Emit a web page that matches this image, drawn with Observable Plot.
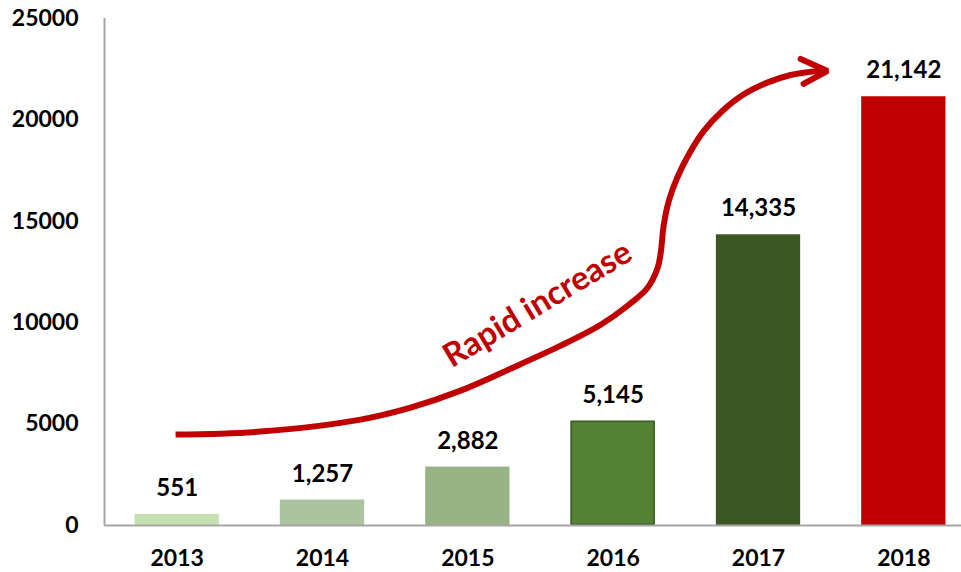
<!DOCTYPE html>
<html>
<head>
<meta charset="utf-8">
<script src="https://cdn.jsdelivr.net/npm/d3@7"></script>
<script src="https://cdn.jsdelivr.net/npm/@observablehq/plot@0.6"></script>
<style>
  html, body { margin: 0; padding: 0; background: #fff; }
  #chart { width: 961px; height: 572px; }
</style>
</head>
<body>
<div id="chart"></div>
<script>
// ---- data ----
const years = ["2013", "2014", "2015", "2016", "2017", "2018"];
const counts = [551, 1257, 2882, 5145, 14335, 21142];
const yTicks = [0, 5000, 10000, 15000, 20000, 25000];
const annotationText = "Rapid increase";
// arrow path in data units (x = year index, y = value)
const arrowX = [-0.011, 0.574, 1.262, 1.606, 1.95, 2.294, 2.638, 2.914, 3.099, 3.237, 3.306, 3.326, 3.349, 3.383, 3.441, 3.521, 3.624, 3.751, 3.899, 4.06, 4.221, 4.44];
const arrowY = [4483, 4630, 5222, 5812, 6650, 7734, 8867, 9901, 10837, 11724, 12709, 13384, 14862, 16010, 17158, 18310, 19458, 20443, 21266, 21837, 22216, 22438];
const headX = [4.29, 4.475, 4.31];
const headY = [23005, 22414, 21773];

// ---- styles ----
const palette = ["#c5e0b4", "#abc39f", "#98b384", "#548235", "#3a5724", "#c00000"];
const red = "#c00000";
const gray = "#a6a6a6";

const bars = years.map((y, i) => ({i, year: y, value: counts[i]}));
const curve = arrowX.map((x, k) => ({x, y: arrowY[k]}));
const head = headX.map((x, k) => ({x, y: headY[k]}));

const half = 0.29;
const chart = Plot.plot({
  width: 961,
  height: 572,
  marginLeft: 104,
  marginRight: 0,
  marginTop: 18,
  marginBottom: 47,
  style: {fontFamily: "Lato, 'Open Sans', sans-serif", fontSize: "23px", fontWeight: "bold", color: "#000", background: "#fff", overflow: "visible"},
  x: {domain: [-0.5, 5.5], range: [104, 976], axis: null},
  y: {domain: [0, 25000], axis: null},
  color: {type: "ordinal", domain: years, range: palette},
  marks: [
    Plot.rectY(bars, {x1: d => d.i - half, x2: d => d.i + half, y: "value", fill: "year"}),
    Plot.rectY(bars.filter(d => d.year === "2016"), {x1: d => d.i - half, x2: d => d.i + half, y: "value", fill: "none", stroke: "#3d5e27", strokeWidth: 1.5, inset: 0.75}),
    Plot.text(bars, {x: "i", y: "value", text: d => d3.format(",")(d.value), dy: -26, fill: "#000", fontSize: 24, fontWeight: "bold"}),
    Plot.ruleX([-0.5], {y1: 0, y2: 25000, stroke: gray, strokeWidth: 2}),
    Plot.ruleY([0], {stroke: gray, strokeWidth: 2}),
    Plot.axisY({ticks: yTicks, tickSize: 0, tickPadding: 26, tickFormat: d => String(d), fontSize: 23, fontWeight: "bold"}),
    Plot.axisX({ticks: years.map((_, i) => i), tickSize: 0, tickPadding: 24, tickFormat: i => years[i], fontSize: 23, fontWeight: "bold"}),
    Plot.line(curve, {x: "x", y: "y", curve: "catmull-rom", stroke: red, strokeWidth: 6, strokeLinecap: "butt"}),
    Plot.line(head, {x: "x", y: "y", stroke: red, strokeWidth: 6, strokeLinecap: "round", strokeLinejoin: "miter"}),
    Plot.text([annotationText], {x: [2.48], y: [10900], text: d => d, rotate: -31, fill: red, fontSize: 33, fontWeight: "bold"})
  ]
});
document.getElementById("chart").appendChild(chart);
</script>
</body>
</html>
